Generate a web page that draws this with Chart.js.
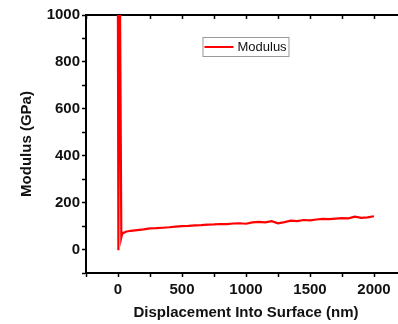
<!DOCTYPE html>
<html lang="en">
<head>
  <meta charset="UTF-8">
  <title>Modulus vs Displacement</title>
  <script src="https://cdn.jsdelivr.net/npm/chart.js"></script>
  <style>
    html, body {
      margin: 0;
      padding: 0;
      background: #fff;
      overflow: hidden;
    }
    #wrap {
      width: 410px;
      height: 324px;
    }
  </style>
</head>
<body>
  <div id="wrap">
    <canvas id="modChart" width="410" height="324"></canvas>
  </div>

  <script>
    // Displacement into surface (nm) and modulus (GPa)
    const displacement = [-2, 3, 12, 26, 34, 40, 60, 100, 150, 200, 250, 300, 350, 400, 450, 500,
      550, 600, 650, 700, 750, 800, 850, 900, 950, 1000, 1050, 1100, 1150, 1200, 1250,
      1300, 1350, 1400, 1450, 1500, 1550, 1600, 1650, 1700, 1750, 1800, 1850, 1900, 1950, 2000];
    const modulus = [1400, -3, 1400, 52, 72, 70, 76, 80, 83, 86, 90, 91, 93, 95, 98, 100,
      101, 103, 104, 106, 107, 109, 108, 111, 112, 110, 116, 118, 116, 121, 112,
      117, 123, 121, 126, 124, 128, 131, 130, 132, 134, 133, 140, 135, 137, 142];
    const seriesName = 'Modulus';
    const xTitle = 'Displacement Into Surface (nm)';
    const yTitle = 'Modulus (GPa)';

    const points = displacement.map((x, i) => ({ x: x, y: modulus[i] }));
    const boldFont = { family: 'Arial', size: 15, weight: 'bold' };

    // legend box drawn inside the plot area
    const innerLegend = {
      id: 'innerLegend',
      afterDraw(chart) {
        const ctx = chart.ctx;
        const area = chart.chartArea;
        const x = area.left + (area.right - area.left) * 0.364;
        const y = area.top + 22;
        const w = 86, h = 19;
        ctx.save();
        ctx.fillStyle = '#fff';
        ctx.fillRect(x, y, w, h);
        ctx.strokeStyle = '#9a9a9a';
        ctx.lineWidth = 1;
        ctx.strokeRect(x + 0.5, y + 0.5, w, h);
        ctx.strokeStyle = '#ff0000';
        ctx.lineWidth = 2;
        ctx.beginPath();
        ctx.moveTo(x + 2, y + h / 2 + 0.5);
        ctx.lineTo(x + 31, y + h / 2 + 0.5);
        ctx.stroke();
        ctx.fillStyle = '#111';
        ctx.font = '13px Arial';
        ctx.textBaseline = 'middle';
        ctx.fillText(chart.data.datasets[0].label, x + 35, y + h / 2 + 1);
        ctx.restore();
      }
    };

    const ctx = document.getElementById('modChart').getContext('2d');
    new Chart(ctx, {
      type: 'line',
      data: {
        datasets: [{
          label: seriesName,
          data: points,
          borderColor: '#ff0000',
          borderWidth: 2.2,
          pointRadius: 0,
          tension: 0,
          fill: false
        }]
      },
      options: {
        responsive: false,
        animation: false,
        layout: { padding: { right: 3 } },
        plugins: {
          legend: { display: false },
          tooltip: { enabled: false }
        },
        scales: {
          x: {
            type: 'linear',
            min: -250,
            max: 2250,
            afterFit: s => { s.height = 51; },
            border: { color: '#000', width: 2 },
            grid: { drawOnChartArea: false, tickLength: 4, tickColor: '#000', tickWidth: 1.5 },
            ticks: {
              stepSize: 250,
              padding: 4,
              color: '#111',
              font: boldFont,
              maxRotation: 0,
              autoSkip: false,
              callback: v => (v % 500 === 0 ? v : '')
            },
            title: {
              display: true,
              text: xTitle,
              color: '#111',
              font: boldFont,
              padding: { top: 0, bottom: 2 }
            }
          },
          x2: {
            type: 'linear',
            position: 'top',
            min: -250,
            max: 2250,
            afterFit: s => { s.height = 15; },
            border: { color: '#000', width: 2 },
            grid: { drawOnChartArea: false, tickLength: -4, tickColor: '#000', tickWidth: 1.5 },
            ticks: { stepSize: 250, display: false, autoSkip: false }
          },
          y: {
            min: -100,
            max: 1000,
            afterFit: s => { s.width = 86; },
            border: { color: '#000', width: 2 },
            grid: { drawOnChartArea: false, tickLength: 4, tickColor: '#000', tickWidth: 1.5 },
            ticks: {
              stepSize: 100,
              padding: 2,
              color: '#111',
              font: boldFont,
              autoSkip: false,
              callback: v => (v % 200 === 0 ? v : '')
            },
            title: {
              display: true,
              text: yTitle,
              color: '#111',
              font: boldFont,
              padding: { top: 18, bottom: 0 }
            }
          }
        }
      },
      plugins: [innerLegend]
    });
  </script>
</body>
</html>
